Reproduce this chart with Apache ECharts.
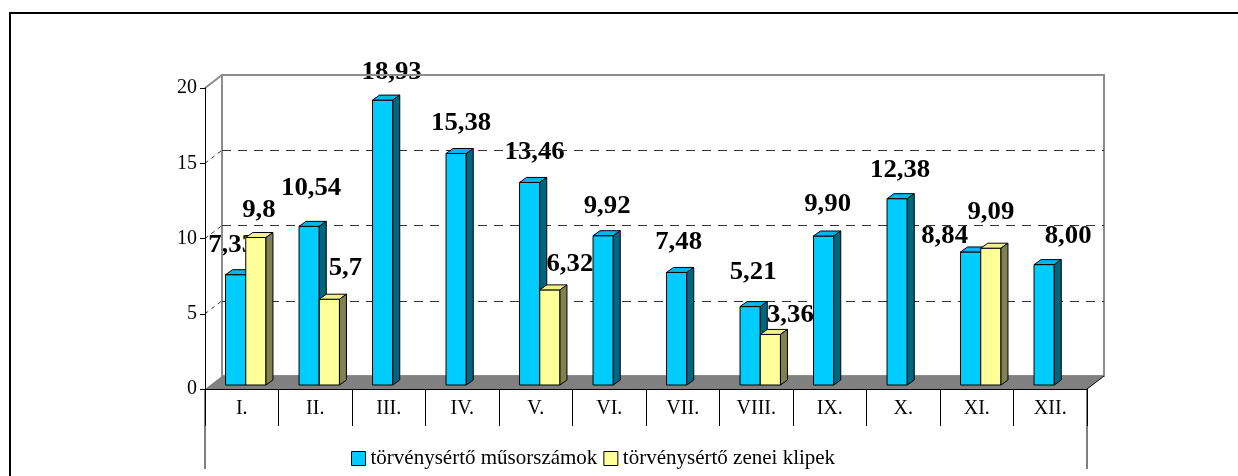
<!DOCTYPE html>
<html>
<head>
<meta charset="utf-8">
<script src="https://cdn.jsdelivr.net/npm/echarts@6/dist/echarts.min.js"></script>
<style>
  html, body { margin: 0; padding: 0; background: #fff; }
  #chart { width: 1238px; height: 476px; }
</style>
</head>
<body>
<div id="chart"></div>
<script>
const months = ['I.', 'II.', 'III.', 'IV.', 'V.', 'VI.', 'VII.', 'VIII.', 'IX.', 'X.', 'XI.', 'XII.']
const seriesNames = ['törvénysértő műsorszámok', 'törvénysértő zenei klipek']
const programs = [7.33, 10.54, 18.93, 15.38, 13.46, 9.92, 7.48, 5.21, 9.90, 12.38, 8.84, 8.00]
const clips = [9.8, 5.7, null, null, 6.32, null, null, 3.36, null, null, 9.09, null]
const yTicks = [0, 5, 10, 15, 20]

// where each value label sits, in px from the top middle of its bar (hand placed in the original)
const programLabelShift = [[-4, -29], [2, -38], [9, -28], [5, -30], [5, -30], [4, -29],
  [2, -30], [3, -34], [4, -31], [3, -28], [-26, -15], [24, -28]]
const clipLabelShift = [[3, -27], [16, -31], null, null, [20, -25], null,
  null, [20, -19], null, null, [0, -36], null]

const DEPTH_X = 17, DEPTH_Y = -13   // depth of the box
const BAR_X = 5, BAR_Y = -4         // bars stand a little inside the box
const SIDE_X = 7, SIDE_Y = -5       // bar thickness

const colors = [
  { front: '#00CCFF', top: '#00B8E8', side: '#006680' },
  { front: '#FFFF99', top: '#F0F08C', side: '#808050' }
]

const chart = echarts.init(document.getElementById('chart'))

const barBox = (api, slot) => {
  const i = api.value(0)
  const base = api.coord([i, 0])
  const top = api.coord([i, api.value(1)])
  const w = api.size([1, 0])[0] * 0.275
  const x0 = base[0] + BAR_X + (slot === 0 ? -w - 1 : -1)
  return { i, x0, w, y0: base[1] + BAR_Y, y1: top[1] + BAR_Y }
}

const renderBar = (slot) => (params, api) => {
  const b = barBox(api, slot)
  const c = colors[slot]
  const line = { stroke: '#000', lineWidth: 1 }
  return {
    type: 'group',
    children: [
      { type: 'rect', shape: { x: b.x0, y: b.y1, width: b.w, height: b.y0 - b.y1 },
        style: Object.assign({ fill: c.front }, line) },
      { type: 'polygon', shape: { points: [[b.x0, b.y1], [b.x0 + SIDE_X, b.y1 + SIDE_Y],
          [b.x0 + b.w + SIDE_X, b.y1 + SIDE_Y], [b.x0 + b.w, b.y1]] },
        style: Object.assign({ fill: c.top }, line) },
      { type: 'polygon', shape: { points: [[b.x0 + b.w, b.y1], [b.x0 + b.w + SIDE_X, b.y1 + SIDE_Y],
          [b.x0 + b.w + SIDE_X, b.y0 + SIDE_Y], [b.x0 + b.w, b.y0]] },
        style: Object.assign({ fill: c.side }, line) }
    ]
  }
}

const renderLabel = (slot, shifts, fmt) => (params, api) => {
  const b = barBox(api, slot)
  const s = shifts[b.i] || [0, -30]
  return {
    type: 'text',
    x: b.x0 + b.w / 2 + s[0],
    y: b.y1 + s[1],
    scaleX: 1.07,
    style: {
      text: fmt(api.value(1)),
      x: 0,
      y: 0,
      align: 'center',
      verticalAlign: 'middle',
      font: 'bold 25px "Liberation Serif", "Times New Roman", serif',
      fill: '#000'
    }
  }
}

// side wall lines, floor and the table borders under the axis
const renderFrame = (params, api) => {
  const cs = params.coordSys
  const v = api.value(1)
  const y = api.coord([0, v])[1]
  const x = cs.x
  if (v === 0) {
    return {
      type: 'group',
      children: [
        { type: 'polygon', shape: { points: [[x, y], [x + cs.width, y],
            [x + cs.width + DEPTH_X, y + DEPTH_Y], [x + DEPTH_X, y + DEPTH_Y]] },
          style: { fill: '#808080' } },
        { type: 'line', shape: { x1: x + cs.width, y1: y, x2: x + cs.width + DEPTH_X, y2: y + DEPTH_Y },
          style: { stroke: '#000', lineWidth: 1 } },
        { type: 'line', shape: { x1: x, y1: y, x2: x, y2: y + 80 }, style: { stroke: '#000', lineWidth: 1 } },
        { type: 'line', shape: { x1: x + cs.width, y1: y, x2: x + cs.width, y2: y + 80 },
          style: { stroke: '#000', lineWidth: 1 } }
      ]
    }
  }
  const top = v === yTicks[yTicks.length - 1]
  return {
    type: 'line',
    shape: { x1: x, y1: y, x2: x + DEPTH_X, y2: y + DEPTH_Y },
    style: { stroke: top ? '#8c8c8c' : '#333', lineWidth: top ? 2 : 1, lineDash: top ? null : [4, 4] }
  }
}

const pairs = (arr) => arr.map((v, i) => [i, v]).filter(d => d[1] !== null)
const font = '"Liberation Serif", "Times New Roman", serif'

const option = {
  animation: false,
  backgroundColor: '#fff',
  graphic: [{
    type: 'rect',
    shape: { x: 10, y: 13, width: 1240, height: 480 },
    style: { fill: 'none', stroke: '#000', lineWidth: 2 },
    silent: true
  }],
  legend: {
    data: seriesNames,
    left: 346,
    top: 443,
    itemWidth: 14,
    itemHeight: 14,
    itemGap: 6,
    icon: 'rect',
    itemStyle: { borderColor: '#000', borderWidth: 1 },
    textStyle: { fontFamily: font, fontSize: 21, color: '#000' }
  },
  grid: [
    { left: 205, right: 151, top: 88, bottom: 87 },
    { left: 205 + DEPTH_X, right: 151 - DEPTH_X, top: 88 + DEPTH_Y, bottom: 87 - DEPTH_Y,
      show: true, borderColor: '#8c8c8c', borderWidth: 2 }
  ],
  xAxis: [
    {
      type: 'category',
      gridIndex: 0,
      data: months,
      z: 2,
      axisLine: { lineStyle: { color: '#000', width: 1 } },
      axisTick: { show: true, interval: 0, length: 37, lineStyle: { color: '#000' } },
      axisLabel: { interval: 0, margin: 10, fontFamily: font, fontSize: 20, color: '#000' },
      splitLine: { show: false }
    },
    { type: 'category', gridIndex: 1, data: months, show: false }
  ],
  yAxis: [
    {
      type: 'value',
      gridIndex: 0,
      min: 0, max: 20, interval: 5,
      z: 2,
      axisLine: { show: true, lineStyle: { color: '#000', width: 1 } },
      axisTick: { show: true, length: 5, lineStyle: { color: '#000' } },
      axisLabel: { margin: 8, fontFamily: font, fontSize: 20, color: '#000' },
      splitLine: { show: false }
    },
    {
      type: 'value',
      gridIndex: 1,
      min: 0, max: 20, interval: 5,
      axisLine: { show: false },
      axisTick: { show: false },
      axisLabel: { show: false },
      splitLine: {
        show: true, showMinLine: false, showMaxLine: false,
        lineStyle: { color: '#333', width: 1, type: [9, 7] }
      }
    }
  ],
  series: [
    {
      name: 'frame', type: 'custom', xAxisIndex: 0, yAxisIndex: 0, z: 1, silent: true,
      renderItem: renderFrame, data: yTicks.map(v => [0, v])
    },
    {
      name: 'programLabels', type: 'custom', z: -1, silent: true,
      renderItem: renderLabel(0, programLabelShift, v => v.toFixed(2).replace('.', ',')),
      data: pairs(programs)
    },
    {
      name: 'clipLabels', type: 'custom', z: -1, silent: true,
      renderItem: renderLabel(1, clipLabelShift, v => String(v).replace('.', ',')),
      data: pairs(clips)
    },
    {
      name: seriesNames[0], type: 'custom', z: 3,
      itemStyle: { color: colors[0].front },
      renderItem: renderBar(0), data: pairs(programs)
    },
    {
      name: seriesNames[1], type: 'custom', z: 4,
      itemStyle: { color: colors[1].front },
      renderItem: renderBar(1), data: pairs(clips)
    }
  ]
}

chart.setOption(option)
</script>
</body>
</html>
